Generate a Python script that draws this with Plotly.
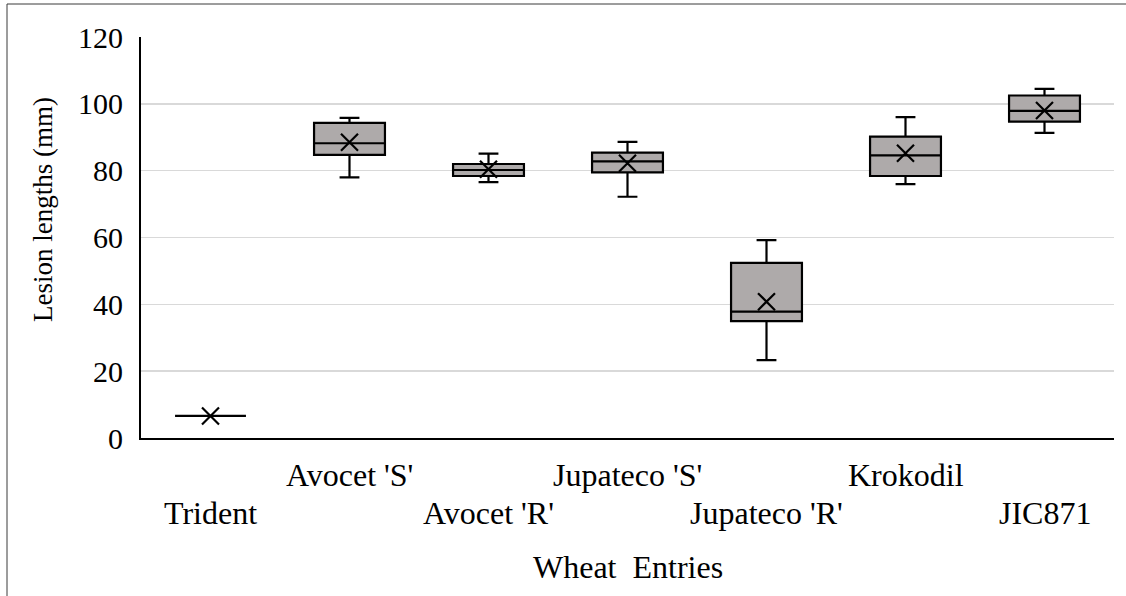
import plotly.graph_objects as go

categories = ["Trident", "Avocet 'S'", "Avocet 'R'", "Jupateco 'S'", "Jupateco 'R'", "Krokodil", "JIC871"]
lower_whisker = [6.6, 78.0, 76.6, 72.2, 23.3, 76.0, 91.3]
q1 = [6.6, 84.7, 78.4, 79.5, 35.0, 78.4, 94.7]
median = [6.6, 88.2, 80.2, 82.8, 37.8, 84.6, 97.9]
q3 = [6.6, 94.3, 82.0, 85.4, 52.4, 90.2, 102.5]
upper_whisker = [6.6, 95.8, 85.1, 88.6, 59.2, 96.0, 104.5]
means = [6.6, 88.5, 80.4, 82.2, 40.8, 85.2, 98.0]
label_row = [1, 0, 1, 0, 1, 0, 1]  # 1 = lower row of staggered labels
y_ticks = [0, 20, 40, 60, 80, 100, 120]

FONT = "Liberation Serif"
W, H = 1126, 596
ML, MR, MT, MB = 141, 12, 37, 158
PW, PH = W - ML - MR, H - MT - MB

def px_x(p):
    return (p - ML) / PW

def px_y(p):
    return (H - MB - p) / PH

ROW_Y = [474.5, 512.5]   # visual centre of each staggered label row (px)

fig = go.Figure()
fig.add_trace(go.Box(
    x=categories,
    q1=q1, median=median, q3=q3,
    lowerfence=lower_whisker, upperfence=upper_whisker,
    fillcolor="#AEAAAA",
    line=dict(color="black", width=2.2),
    whiskerwidth=0.28,
    width=0.51,
    boxpoints=False,
    hoverinfo="skip",
    showlegend=False,
))
fig.add_trace(go.Scatter(
    x=categories, y=means, mode="markers",
    marker=dict(symbol="x-thin", size=17, line=dict(color="black", width=2.2)),
    hoverinfo="skip", showlegend=False,
))

annotations = [
    dict(text=c, showarrow=False, xref="x", yref="paper",
         x=c, y=px_y(ROW_Y[r]), xanchor="center", yanchor="middle",
         font=dict(size=32, family=FONT, color="black"))
    for c, r in zip(categories, label_row)
]
annotations += [
    dict(text="Lesion lengths (mm)", textangle=-90, showarrow=False,
         xref="paper", yref="paper", x=px_x(43), y=px_y(210),
         xanchor="center", yanchor="middle",
         font=dict(size=27, family=FONT, color="black")),
    dict(text="Wheat\u00a0 Entries", showarrow=False,
         xref="paper", yref="paper", x=px_x(628), y=px_y(566.5),
         xanchor="center", yanchor="middle",
         font=dict(size=32, family=FONT, color="black")),
]

fig.update_layout(
    width=W, height=H,
    margin=dict(l=ML, r=MR, t=MT, b=MB, pad=0),
    paper_bgcolor="white", plot_bgcolor="white",
    font=dict(family=FONT, color="black", size=30),
    xaxis=dict(
        type="category", range=[-0.5, 6.5],
        showticklabels=False, automargin=False,
        showgrid=False, showline=True, linecolor="black", linewidth=2,
        ticks="", zeroline=False,
    ),
    yaxis=dict(
        range=[0, 120], tickmode="array", tickvals=y_ticks,
        automargin=False,
        showgrid=True, gridcolor="#D9D9D9", gridwidth=1.5,
        showline=True, linecolor="black", linewidth=2,
        ticks="", tickfont=dict(size=30, family=FONT, color="black"),
        ticklabelstandoff=10,
        zeroline=False,
    ),
    annotations=annotations,
    shapes=[
        dict(type="line", xref="paper", yref="paper",
             x0=px_x(7), x1=px_x(7), y0=px_y(H), y1=px_y(4),
             line=dict(color="#3a3a3a", width=1)),
        dict(type="line", xref="paper", yref="paper",
             x0=px_x(7), x1=px_x(W), y0=px_y(4), y1=px_y(4),
             line=dict(color="#3a3a3a", width=1)),
    ],
)

fig.write_html(
    "out.html",
    config={"displayModeBar": False, "staticPlot": True},
    post_script="document.body.style.margin='0';document.body.style.overflow='hidden';",
)
